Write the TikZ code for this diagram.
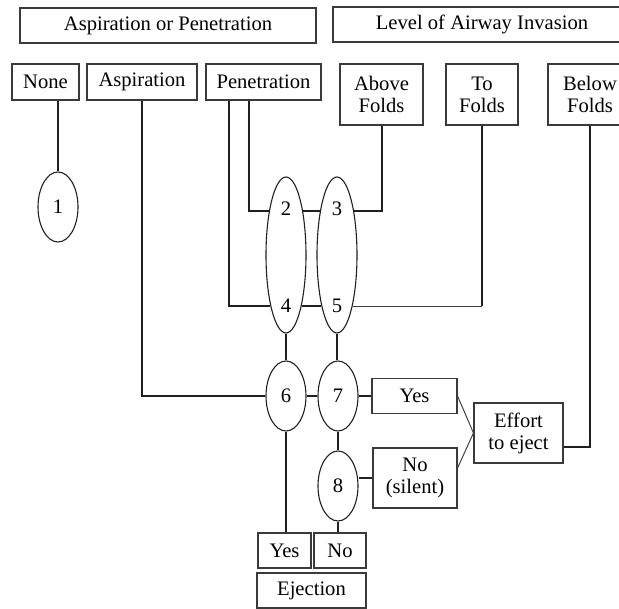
\documentclass[tikz,border=0pt]{standalone}
\usepackage{fontspec}
\setmainfont{Liberation Serif}
\usepackage{tikz}
\usetikzlibrary{calc,shapes.geometric}
\definecolor{Ink}{HTML}{231F20}
\definecolor{Frame}{HTML}{3A3A3A}

\begin{document}
\begin{tikzpicture}[x=1pt,y=-1pt,font=\fontsize{20.6}{22}\selectfont,
  box/.style={draw=Frame,line width=1.1pt,inner sep=0pt,align=center},
  oval/.style={ellipse,draw=Ink,line width=1.1pt,inner sep=0pt,minimum width=40pt,minimum height=70pt},
  link/.style={draw=Ink,line width=2pt},
  fine/.style={draw=Ink!85,line width=1pt}]
        \useasboundingbox (0,0) rectangle (619,609);
        \node[box,minimum width=296pt,minimum height=35pt] (hdrA) at (168,25.5) {Aspiration or Penetration};
        \node[box,minimum width=298pt,minimum height=35pt] (hdrB) at (482,24.5) {Level of Airway Invasion};
        \node[box,minimum width=67pt,minimum height=36pt] (none) at (45.5,82) {None};
        \node[box,minimum width=110pt,minimum height=36pt] (asp) at (142,82) {Aspiration};
        \node[box,minimum width=115pt,minimum height=36pt] (pen) at (263.5,82) {Penetration};
        \node[box,minimum width=83pt,minimum height=61pt] (above) at (381.5,94.5) {Above\\Folds};
        \node[box,minimum width=72pt,minimum height=61pt] (tofolds) at (482,94.5) {To\\Folds};
        \node[box,minimum width=84pt,minimum height=61pt] (below) at (590,94.5) {Below\\Folds};
        \node[oval] (e1) at (58,207) {1};
        \node[oval,minimum height=156pt] (e24) at (286,255) {};
        \node[oval,minimum height=156pt] (e35) at (337,255) {};
        \node (n2) at (286,209) {2};
        \node (n4) at (286,306) {4};
        \node (n3) at (337,209) {3};
        \node (n5) at (337,306) {5};
        \node[oval] (e6) at (286,396) {6};
        \node[oval] (e7) at (338,396) {7};
        \node[oval] (e8) at (338,486) {8};
        \node[box,minimum width=85pt,minimum height=35pt] (yes1) at (414.5,396) {Yes};
        \node[box,minimum width=84pt,minimum height=60pt] (nosil) at (415,478) {No\\(silent)};
        \node[box,minimum width=89pt,minimum height=60pt] (effort) at (518.5,433) {Effort\\to eject};
        \node[box,minimum width=53pt,minimum height=35pt] (yesej) at (284.5,550.5) {Yes};
        \node[box,minimum width=52pt,minimum height=35pt] (noej) at (340,550.5) {No};
        \node[box,minimum width=109pt,minimum height=35pt] (eject) at (311.5,590.5) {Ejection};
        \draw[link] (e1.north) -- (e1.north |- none.south);
        \draw[link] (e6.west) -| (asp.south);
        \draw[link] (e24.111) -| ([xshift=-14.5pt]pen.south);
        \draw[link] (e24.253) -| ([xshift=-34.5pt]pen.south);
        \draw[link] (e24.69) -- (e35.111);
        \draw[link] (e24.287) -- (e35.253);
        \draw[link] (e35.69) -| (above.south);
        \coordinate (bend5) at (e35.287 -| tofolds.south);
        \draw[fine] (e35.287) -- (bend5);
        \draw[link] (bend5) -- (tofolds.south);
        \draw[link] (e24.south) -- (e6.north);
        \draw[link] (e35.south) -- (e35.south |- e7.north);
        \draw[link] (e6.east) -- (e7.west);
        \draw[link] (e7.east) -- (yes1.west);
        \draw[link] (e7.south) -- (e8.north);
        \draw[link] (nosil.west) -- (nosil.west -| e8.east);
        \draw[link] (e6.south) -- (e6.south |- yesej.north);
        \draw[link] (e8.south) -- (e8.south |- noej.north);
        \draw[fine] (yes1.east) -- (effort.west);
        \draw[fine] ([yshift=10pt]nosil.east) -- (effort.west);
        \draw[link] ([yshift=-14pt]effort.east) -| (below.south);
      \end{tikzpicture}
\end{document}
